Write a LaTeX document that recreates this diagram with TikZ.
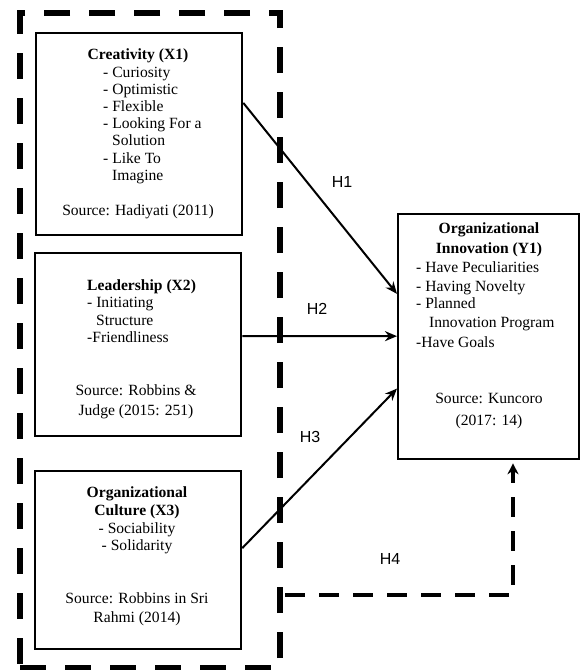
\documentclass[tikz,border=0pt]{standalone}
\usepackage{fontspec}
\setmainfont{Liberation Serif}
\newfontfamily\hfont{Liberation Sans}
\usetikzlibrary{calc,arrows.meta}
\begin{document}
\begin{tikzpicture}[x=1pt,y=-1pt,
  box/.style={draw, line width=2.3pt, anchor=north west, inner sep=0pt},
  frame/.style={draw, line width=6pt, dash pattern=on 26pt off 19pt, anchor=north west, inner sep=0pt},
  txt/.style={inner sep=0pt, font=\fontsize{15.6}{17}\selectfont},
  ttl/.style={txt, font=\fontsize{15.6}{17}\selectfont\bfseries},
  hlab/.style={inner sep=0pt, font=\hfont\fontsize{16}{18}\selectfont},
  arr/.style={line width=2pt, -{Stealth[length=12pt,width=10pt]}},
  darr/.style={line width=4pt, dash pattern=on 20pt off 14pt, -{Stealth[length=11pt,width=11pt]}}]
\useasboundingbox (0,0) rectangle (581,670);
% outer dashed frame
\node[frame, minimum width=260pt, minimum height=655pt] (fr) at (17,10) {};
% boxes
\node[box, minimum width=206pt, minimum height=202pt] (b1) at (35,32) {};
\node[box, minimum width=206pt, minimum height=183pt] (b2) at (34,252) {};
\node[box, minimum width=206pt, minimum height=178pt] (b3) at (34,470) {};
\node[box, minimum width=181pt, minimum height=245pt] (r) at (397,213) {};
% box 1 text
\node[ttl, anchor=base] (t1) at (138,59) {Creativity (X1)};
\node[txt, anchor=base west] (c1) at (103,77) {- Curiosity};
\node[txt, anchor=base west] (c2) at (103,94) {- Optimistic};
\node[txt, anchor=base west] (c3) at (103,111) {- Flexible};
\node[txt, anchor=base west] (c4) at (103,128) {- Looking For a};
\node[txt, anchor=base west] (c5) at (112,145) {Solution};
\node[txt, anchor=base west] (c6) at (103,163) {- Like To};
\node[txt, anchor=base west] (c7) at (112,180) {Imagine};
\node[txt, anchor=base] (s1) at (138,215) {Source: Hadiyati (2011)};
% box 2 text
\node[ttl, anchor=base west] (t2) at (87,290) {Leadership (X2)};
\node[txt, anchor=base west] (d1) at (87,307) {- Initiating};
\node[txt, anchor=base west] (d2) at (96,325) {Structure};
\node[txt, anchor=base west] (d3) at (87,342) {-Friendliness};
\node[txt, anchor=base] (s2a) at (136,395) {Source: Robbins \&};
\node[txt, anchor=base] (s2b) at (136,415) {Judge (2015: 251)};
% box 3 text
\node[ttl, anchor=base] (t3a) at (137,497) {Organizational};
\node[ttl, anchor=base] (t3b) at (137,515) {Culture (X3)};
\node[txt, anchor=base] (e1) at (137,533) {- Sociability};
\node[txt, anchor=base] (e2) at (137,550) {- Solidarity};
\node[txt, anchor=base] (s3a) at (137,603) {Source: Robbins in Sri};
\node[txt, anchor=base] (s3b) at (137,622) {Rahmi (2014)};
% right box text
\node[ttl, anchor=base] (ta) at (489,233) {Organizational};
\node[ttl, anchor=base] (tb) at (489,253) {Innovation (Y1)};
\node[txt, anchor=base west] (f1) at (416,272) {- Have Peculiarities};
\node[txt, anchor=base west] (f2) at (416,291) {- Having Novelty};
\node[txt, anchor=base west] (f3) at (416,308) {- Planned};
\node[txt, anchor=base west] (f4) at (429,327) {Innovation Program};
\node[txt, anchor=base west] (f5) at (416,347) {-Have Goals};
\node[txt, anchor=base] (sra) at (489,403) {Source: Kuncoro};
\node[txt, anchor=base] (srb) at (489,425) {(2017: 14)};
% connectors
\draw[arr] ($(b1.north east)!0.347!(b1.south east)$) -- ($(r.north west)!0.327!(r.south west)$);
\draw[arr] ($(b2.north east)!0.454!(b2.south east)$) -- ($(r.north west)!0.498!(r.south west)$);
\draw[arr] ($(b3.north east)!0.433!(b3.south east)$) -- ($(r.north west)!0.71!(r.south west)$);
\coordinate (h4s) at ($(fr.north east)!0.885!(fr.south east) + (2,0)$);
\coordinate (h4c) at (513,587);
\draw[darr, shorten >=3pt] (h4s) -- (h4c |- h4s) -- (h4c |- r.south);
% labels
\node[hlab] (h1) at (342,182) {H1};
\node[hlab] (h2) at (317,309) {H2};
\node[hlab] (h3) at (310,437) {H3};
\node[hlab] (h4) at (390,559) {H4};
\end{tikzpicture}
\end{document}
